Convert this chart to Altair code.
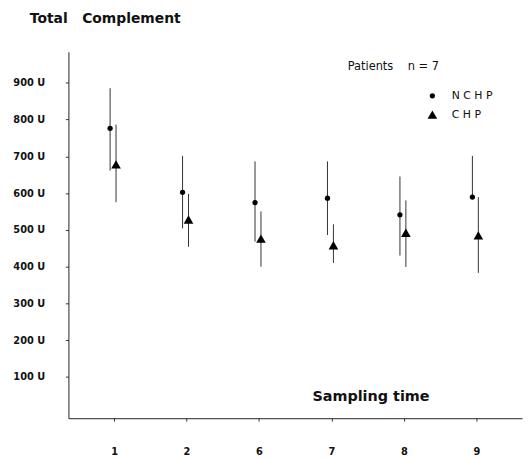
import altair as alt
import pandas as pd

# ---- data ----
times = ["1", "2", "6", "7", "8", "9"]
series_names = ["NCHP", "CHP"]

nchp_mean = [776, 602, 574, 586, 541, 589]
nchp_lo = [661, 504, 468, 486, 430, 589]
nchp_hi = [885, 701, 686, 686, 645, 701]

chp_mean = [678, 528, 476, 458, 492, 485]
chp_lo = [575, 454, 400, 410, 399, 383]
chp_hi = [786, 598, 550, 515, 580, 589]

y_ticks = [100, 200, 300, 400, 500, 600, 700, 800, 900]
patients_label = ["Patients\u00a0\u00a0\u00a0\u00a0n\u00a0=\u00a07"]

rows = []
for i, t in enumerate(times):
    rows.append(dict(time=t, series="NCHP", mean=nchp_mean[i], lo=nchp_lo[i], hi=nchp_hi[i]))
    rows.append(dict(time=t, series="CHP", mean=chp_mean[i], lo=chp_lo[i], hi=chp_hi[i]))
df = pd.DataFrame(rows)

FONT = "DejaVu Sans"
COND = "DejaVu Sans Condensed"

x_enc = alt.X(
    "time:O",
    sort=times,
    scale=alt.Scale(type="point", padding=0.63),
    axis=alt.Axis(
        title="Sampling time",
        titleX=305,
        titleY=-18,
        titleAlign="center",
        titleBaseline="alphabetic",
        titleFont=FONT,
        titleFontSize=14.5,
        titleFontWeight="bold",
        titleColor="#111",
        labelAngle=0,
        labelFont=COND,
        labelFontWeight="bold",
        labelFontSize=11,
        labelColor="#111",
        labelPadding=25,
        tickSize=3,
        tickColor="#333",
        domainColor="#222",
    ),
)

y_scale = alt.Scale(domain=[-12, 984], nice=False, zero=False)
y_axis = alt.Axis(
    title=None,
    values=y_ticks,
    labelExpr="datum.value + ' U'",
    labelFont=COND,
    labelFontWeight="bold",
    labelFontSize=11,
    labelColor="#111",
    labelPadding=21,
    tickSize=3,
    tickColor="#333",
    domainColor="#222",
)

legend_def = alt.Legend(
    title=None,
    orient="none",
    legendX=362,
    legendY=39,
    labelExpr="join(split(datum.label, ''), ' ')",
    labelFont=FONT,
    labelFontSize=11,
    labelColor="#111",
    labelOffset=14,
    rowPadding=7,
    symbolFillColor="black",
    symbolStrokeWidth=0,
    padding=0,
)

shape_enc = alt.Shape(
    "series:N",
    scale=alt.Scale(domain=series_names, range=["circle", "triangle-up"]),
    legend=legend_def,
)
size_enc = alt.Size(
    "series:N",
    scale=alt.Scale(domain=series_names, range=[28, 95]),
    legend=legend_def,
)

base = alt.Chart(df)
offsets = {"NCHP": -4, "CHP": 2}
layers = []
for s in series_names:
    sub = base.transform_filter(alt.datum.series == s)
    layers.append(
        sub.mark_rule(color="#333", strokeWidth=1, xOffset=offsets[s]).encode(
            x=x_enc,
            y=alt.Y("lo:Q", scale=y_scale, axis=y_axis),
            y2="hi:Q",
        )
    )
for s in series_names:
    sub = base.transform_filter(alt.datum.series == s)
    layers.append(
        sub.mark_point(filled=True, color="black", opacity=1, xOffset=offsets[s]).encode(
            x=x_enc,
            y=alt.Y("mean:Q", scale=y_scale, axis=y_axis),
            shape=shape_enc,
            size=size_enc,
        )
    )

patients = alt.Chart(pd.DataFrame({"t": patients_label})).mark_text(
    align="left", baseline="middle", font=FONT, fontSize=11.5, color="#111"
).encode(text="t:N", x=alt.value(282), y=alt.value(15))
layers.append(patients)

chart = (
    alt.layer(*layers)
    .properties(
        width=458,
        height=370,
        autosize=alt.AutoSizeParams(type="none"),
        padding={"left": 61, "top": 42, "right": 1, "bottom": 40},
        title=alt.TitleParams(
            text="Total\u00a0\u00a0\u00a0Complement",
            anchor="start",
            frame="group",
            dx=-39,
            offset=15,
            baseline="alphabetic",
            font=FONT,
            fontSize=14,
            fontWeight="bold",
            color="#111",
        ),
    )
    .configure_view(stroke=None)
    .configure_axis(grid=False)
)

chart.save("out.html", embed_options={"renderer": "svg", "actions": False})
